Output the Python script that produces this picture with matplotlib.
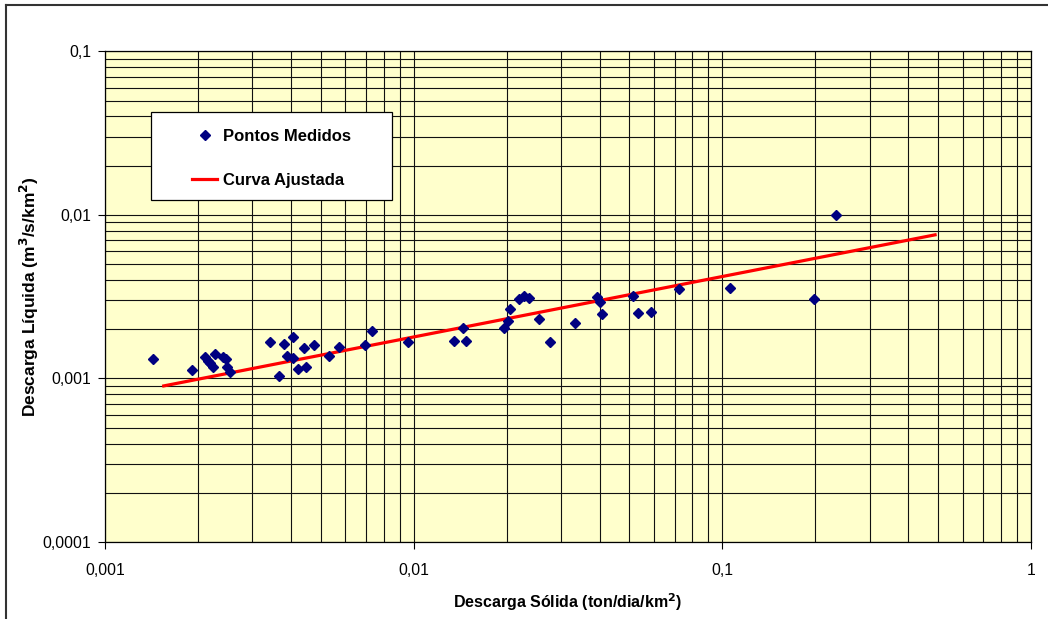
import matplotlib
matplotlib.use("Agg")
import matplotlib.pyplot as plt
from matplotlib.lines import Line2D
from matplotlib.patches import Rectangle
from matplotlib.ticker import LogLocator, FixedLocator, NullFormatter

plt.rcParams['font.family'] = ['Liberation Sans', 'DejaVu Sans']

# measured points (ton/dia/km2 vs m3/s/km2)
solida = [0.00143, 0.00192, 0.00211, 0.00215, 0.00219, 0.00223, 0.00227, 0.00241,
          0.00247, 0.00249, 0.00254, 0.00342, 0.00365, 0.00380, 0.00388, 0.00407,
          0.00406, 0.00423, 0.00442, 0.00448, 0.00476, 0.00533, 0.00572, 0.00694,
          0.00731, 0.00958, 0.0135, 0.0148, 0.0145, 0.0196, 0.0202, 0.0205,
          0.0219, 0.0228, 0.0237, 0.0255, 0.0276, 0.0334, 0.0392, 0.0401,
          0.0408, 0.0512, 0.0532, 0.0589, 0.0722, 0.1056, 0.1976, 0.2333]
liquida = [0.00131, 0.00113, 0.00135, 0.00128, 0.00124, 0.00117, 0.00141, 0.00136,
           0.00132, 0.00117, 0.00110, 0.00166, 0.00104, 0.00162, 0.00138, 0.00178,
           0.00133, 0.00114, 0.00153, 0.00117, 0.00159, 0.00138, 0.00156, 0.00159,
           0.00196, 0.00167, 0.00169, 0.00170, 0.00204, 0.00202, 0.00226, 0.00266,
           0.00304, 0.00317, 0.00311, 0.00232, 0.00167, 0.00218, 0.00313, 0.00294,
           0.00248, 0.00317, 0.00250, 0.00253, 0.00353, 0.00355, 0.00304, 0.00996]

# fitted curve end points
curva_x = [0.00155, 0.489]
curva_y = [0.00090, 0.00755]

xticks = [0.001, 0.01, 0.1, 1]
xlabels = ["0,001", "0,01", "0,1", "1"]
yticks = [0.0001, 0.001, 0.01, 0.1]
ylabels = ["0,0001", "0,001", "0,01", "0,1"]

fig = plt.figure(figsize=(10.48, 6.19), dpi=100)
ax = fig.add_axes([105 / 1048, 1 - 542 / 619, 926 / 1048, 490.7 / 619])
ax.set_facecolor("#FFFFCC")

ax.set_xscale("log")
ax.set_yscale("log")
ax.set_xlim(0.001, 1)
ax.set_ylim(0.0001, 0.1)

ax.plot(solida, liquida, linestyle="none", marker="D", markersize=5.5,
        color="#000080", label="Pontos Medidos", zorder=4)
ax.plot(curva_x, curva_y, color="#FF0000", linewidth=2.3,
        label="Curva Ajustada", zorder=3)

ax.xaxis.set_major_locator(FixedLocator(xticks))
ax.set_xticklabels(xlabels)
ax.yaxis.set_major_locator(FixedLocator(yticks))
ax.set_yticklabels(ylabels)
ax.xaxis.set_minor_locator(LogLocator(base=10, subs=range(2, 10)))
ax.yaxis.set_minor_locator(LogLocator(base=10, subs=range(2, 10)))
ax.xaxis.set_minor_formatter(NullFormatter())
ax.yaxis.set_minor_formatter(NullFormatter())

ax.tick_params(which="major", direction="out", length=5, width=0.8, color="black",
               labelsize=11.3)
ax.tick_params(axis="x", which="major", pad=10)
ax.tick_params(axis="y", which="major", pad=5)
ax.tick_params(which="minor", length=0)

ax.grid(True, which="both", color="#111111", linewidth=0.8)
ax.set_axisbelow(True)
for s in ax.spines.values():
    s.set_color("black")
    s.set_linewidth(0.9)

ax.set_xlabel("Descarga Sólida (ton/dia/km$^{\\mathbf{2}}$)", fontsize=11.5,
              fontweight="bold", labelpad=10)
ax.set_ylabel("Descarga Líquida (m$^{\\mathbf{3}}$/s/km$^{\\mathbf{2}}$)", fontsize=12.5,
              fontweight="bold", labelpad=1)

# legend box
leg_box = (0.0497, 0.697, 0.2603, 0.1793)
ax.add_patch(Rectangle(leg_box[:2], leg_box[2], leg_box[3], transform=ax.transAxes,
                       facecolor="white", edgecolor="black", linewidth=0.9, zorder=5))
leg = ax.legend(loc="center", bbox_to_anchor=(leg_box[0], leg_box[1] - 0.005,
                                              leg_box[2], leg_box[3]),
                frameon=False, borderpad=0, labelspacing=1.7, handlelength=1.5,
                handletextpad=0.35, borderaxespad=0,
                prop={"weight": "bold", "size": 12})
leg.set_zorder(6)

# outer chart border (top and left visible)
fig.add_artist(Line2D([6 / 1048, 1], [1 - 5 / 619, 1 - 5 / 619], color="#333333",
                      linewidth=1.5, transform=fig.transFigure))
fig.add_artist(Line2D([6 / 1048, 6 / 1048], [0, 1 - 5 / 619], color="#333333",
                      linewidth=1.5, transform=fig.transFigure))

fig.savefig("out.png", dpi=100)
